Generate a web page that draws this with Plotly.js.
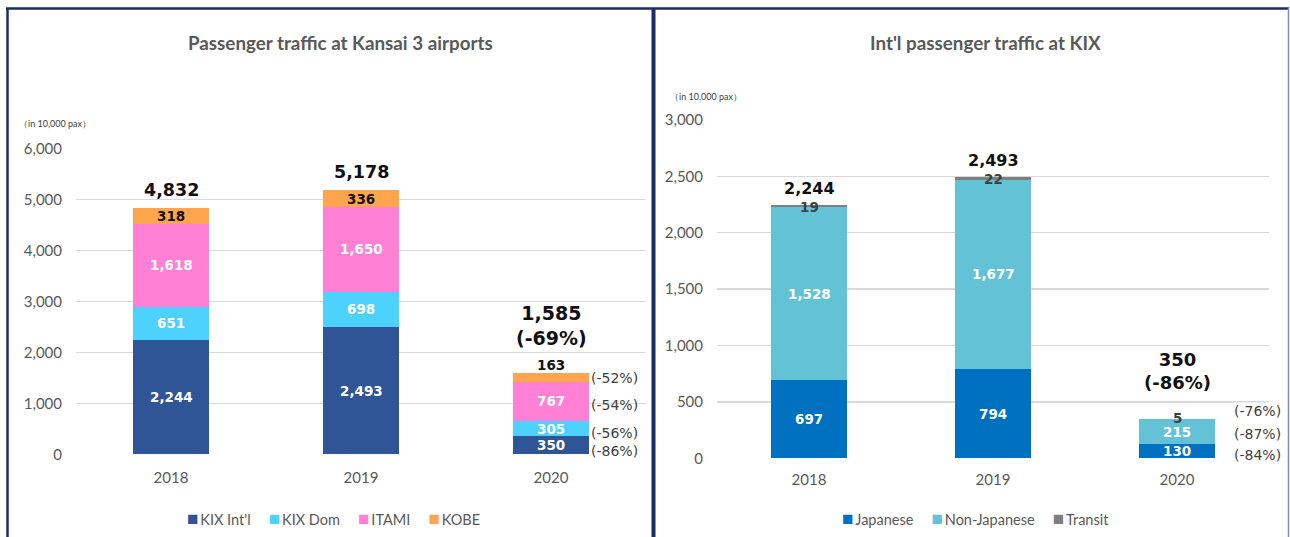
<!DOCTYPE html>
<html><head><meta charset="utf-8">
<script src="https://cdn.plot.ly/plotly-3.0.1.min.js"></script>
<style>html,body{margin:0;padding:0;background:#fff;} #chart{width:1290px;height:537px;}</style>
</head><body><div id="chart"></div>
<script>
// ---------- DATA ----------
const years = ['2018', '2019', '2020'];

// Left chart: Passenger traffic at Kansai 3 airports (in 10,000 pax)
const kixIntl = [2244, 2493, 350];
const kixDom = [651, 698, 305];
const itami = [1618, 1650, 767];
const kobe = [318, 336, 163];
const totalsLeft = [4832, 5178, 1585];
const totalChangeLeft = ['', '', '(-69%)'];
const change2020Left = ['(-86%)', '(-56%)', '(-54%)', '(-52%)']; // KIX Int'l, KIX Dom, ITAMI, KOBE

// Right chart: Int'l passenger traffic at KIX (in 10,000 pax)
const japanese = [697, 794, 130];
const nonJapanese = [1528, 1677, 215];
const transit = [19, 22, 5];
const totalsRight = [2244, 2493, 350];
const totalChangeRight = ['', '', '(-86%)'];
const change2020Right = ['(-84%)', '(-87%)', '(-76%)']; // Japanese, Non-Japanese, Transit

const yTicksLeft = [0, 1000, 2000, 3000, 4000, 5000, 6000];
const yTickTextLeft = ['0', '1,000', '2,000', '3,000', '4,000', '5,000', '6,000'];
const yTicksRight = [0, 500, 1000, 1500, 2000, 2500, 3000];
const yTickTextRight = ['0', '500', '1,000', '1,500', '2,000', '2,500', '3,000'];

// ---------- STYLE ----------
const W = 1290, H = 537;
const px = v => v / W;
const py = v => (H - v) / H;
const fmt = v => v.toLocaleString('en-US');
const LABEL_FONT = 'DejaVu Sans, Verdana, sans-serif';
const AXIS_FONT = 'Lato, Calibri, sans-serif';

const leftSeries = [
  {name: "KIX Int'l", values: kixIntl, color: '#2F5597', txt: '#FFFFFF', pctNudge: 6},
  {name: 'KIX Dom', values: kixDom, color: '#4DD2FF', txt: '#FFFFFF', pctNudge: 4},
  {name: 'ITAMI', values: itami, color: '#FF80D5', txt: '#FFFFFF', pctNudge: 4},
  {name: 'KOBE', values: kobe, color: '#FFA54D', txt: '#111111', pctNudge: 0, aboveLast: true}
];
const rightSeries = [
  {name: 'Japanese', values: japanese, color: '#0070C0', txt: '#FFFFFF', pctNudge: 4},
  {name: 'Non-Japanese', values: nonJapanese, color: '#63C2D6', txt: '#FFFFFF', pctNudge: 2},
  {name: 'Transit', values: transit, color: '#7F7F7F', txt: '#404040', pctNudge: -8, nearTop: true}
];

const traces = [];
const annotations = [];

function build(series, xa, ya, barWidth, totals, totalChange, change2020, cfg) {
  const base = years.map(() => 0);
  series.forEach((s, si) => {
    traces.push({
      type: 'bar', name: s.name, x: years, y: s.values, xaxis: xa, yaxis: ya,
      width: barWidth, marker: {color: s.color, line: {width: 0}},
      hoverinfo: 'skip', showlegend: false
    });
    years.forEach((yr, i) => {
      const v = s.values[i];
      const b = base[i];
      const isLast = i === years.length - 1;
      const ann = {
        xref: xa, yref: ya, x: i, xanchor: 'center', showarrow: false,
        text: fmt(v), borderpad: 0,
        font: {family: LABEL_FONT, size: 13.5, color: s.txt, weight: 'bold'}
      };
      if (s.aboveLast && isLast) {
        ann.y = b + v; ann.yanchor = 'bottom'; ann.yshift = -1;
        ann.font.color = '#111111';
      } else if (s.nearTop) {
        ann.y = b + v; ann.yanchor = 'middle'; ann.yshift = isLast ? 1 : -2;
      } else {
        ann.y = b + v / 2; ann.yanchor = 'middle';
      }
      annotations.push(ann);
      if (isLast) {
        annotations.push({
          xref: xa, yref: ya, x: i, y: b + v / 2, xanchor: 'left', yanchor: 'middle',
          xshift: cfg.pctShift, yshift: -s.pctNudge, showarrow: false,
          text: change2020[si], bgcolor: cfg.pctBg, borderpad: 0,
          font: {family: LABEL_FONT, size: 14, color: '#404040'}
        });
      }
      base[i] += v;
    });
  });
  years.forEach((yr, i) => {
    const last = i === years.length - 1;
    annotations.push({
      xref: xa, yref: ya, x: i, y: totals[i], xanchor: 'center', yanchor: 'bottom', showarrow: false,
      yshift: last ? cfg.lastShift : cfg.totShift,
      text: totalChange[i] ? fmt(totals[i]) + '<br>' + totalChange[i] : fmt(totals[i]),
      font: {family: LABEL_FONT, size: last ? cfg.lastSize : cfg.totSize, color: '#111111', weight: 'bold'}
    });
  });
}

build(leftSeries, 'x', 'y', 0.4, totalsLeft, totalChangeLeft, change2020Left,
  {pctShift: 39, pctBg: 'rgba(0,0,0,0)', totShift: 6, lastShift: 22, totSize: 17.5, lastSize: 19});
build(rightSeries, 'x2', 'y2', 0.413, totalsRight, totalChangeRight, change2020Right,
  {pctShift: 56, pctBg: '#FFFFFF', totShift: 5, lastShift: 24, totSize: 16, lastSize: 18});

// Legends (drawn as text, coloured squares)
function legendText(series) {
  return series.map(s => '<span style="color:' + s.color + ';font-size:19px">■</span>\u2009' + s.name).join('\u2003\u2002');
}
annotations.push(
  {xref: 'paper', yref: 'paper', x: px(333), y: py(517), xanchor: 'center', yanchor: 'middle', showarrow: false,
   text: legendText(leftSeries), font: {family: AXIS_FONT, size: 14.5, color: '#595959'}},
  {xref: 'paper', yref: 'paper', x: px(975), y: py(517), xanchor: 'center', yanchor: 'middle', showarrow: false,
   text: legendText(rightSeries), font: {family: AXIS_FONT, size: 14.5, color: '#595959'}}
);

// Titles & units
annotations.push(
  {xref: 'paper', yref: 'paper', x: px(340), y: py(42), xanchor: 'center', yanchor: 'middle', showarrow: false,
   text: 'Passenger traffic at Kansai 3 airports',
   font: {family: AXIS_FONT, size: 18.8, color: '#595959', weight: 'bold'}},
  {xref: 'paper', yref: 'paper', x: px(985), y: py(42), xanchor: 'center', yanchor: 'middle', showarrow: false,
   text: "Int'l passenger traffic at KIX",
   font: {family: AXIS_FONT, size: 18.8, color: '#595959', weight: 'bold'}},
  {xref: 'paper', yref: 'paper', x: px(17), y: py(123), xanchor: 'left', yanchor: 'middle', showarrow: false,
   text: '（in 10,000 pax）', font: {family: AXIS_FONT, size: 9, color: '#404040'}},
  {xref: 'paper', yref: 'paper', x: px(668), y: py(97), xanchor: 'left', yanchor: 'middle', showarrow: false,
   text: '（in 10,000 pax）', font: {family: AXIS_FONT, size: 9, color: '#404040'}}
);

const borderColor = '#1B2C6B';
const shapes = [
  {type: 'line', xref: 'paper', yref: 'paper', x0: px(6), x1: px(1289), y0: py(8.5), y1: py(8.5), line: {color: borderColor, width: 2.5}},
  {type: 'line', xref: 'paper', yref: 'paper', x0: px(7.5), x1: px(7.5), y0: py(8), y1: -0.05, line: {color: borderColor, width: 2.5}},
  {type: 'line', xref: 'paper', yref: 'paper', x0: px(653.5), x1: px(653.5), y0: py(8), y1: -0.05, line: {color: borderColor, width: 4}},
  {type: 'line', xref: 'paper', yref: 'paper', x0: px(1288.5), x1: px(1288.5), y0: py(8), y1: -0.05, line: {color: '#7F8CB3', width: 1.5}}
];

const xBase = {type: 'category', range: [-0.5, 2.5], showgrid: false, zeroline: false, showline: false, ticks: '',
  tickfont: {family: AXIS_FONT, size: 15, color: '#595959'}, ticklabelstandoff: 13, fixedrange: true};
const yBase = {showgrid: true, gridcolor: '#D9D9D9', gridwidth: 1.3, zeroline: false, showline: false, ticks: '',
  tickfont: {family: AXIS_FONT, size: 15, color: '#595959'}, ticklabelstandoff: 13, fixedrange: true};

const layout = {
  width: W, height: H, margin: {l: 0, r: 0, t: 0, b: 0, pad: 0},
  paper_bgcolor: '#FFFFFF', plot_bgcolor: 'rgba(0,0,0,0)',
  barmode: 'stack', showlegend: false,
  font: {family: AXIS_FONT, color: '#595959'},
  xaxis: Object.assign({}, xBase, {domain: [px(76), px(646)], anchor: 'y'}),
  yaxis: Object.assign({}, yBase, {domain: [py(454.3), py(148.3)], anchor: 'x', range: [0, 6000], tickvals: yTicksLeft, ticktext: yTickTextLeft}),
  xaxis2: Object.assign({}, xBase, {domain: [px(717), px(1269)], anchor: 'y2', ticklabelstandoff: 11}),
  yaxis2: Object.assign({}, yBase, {domain: [py(458.3), py(120)], anchor: 'x2', range: [0, 3000], tickvals: yTicksRight, ticktext: yTickTextRight}),
  shapes: shapes,
  annotations: annotations
};

Plotly.newPlot('chart', traces, layout, {staticPlot: true, displayModeBar: false});
</script>
</body></html>
